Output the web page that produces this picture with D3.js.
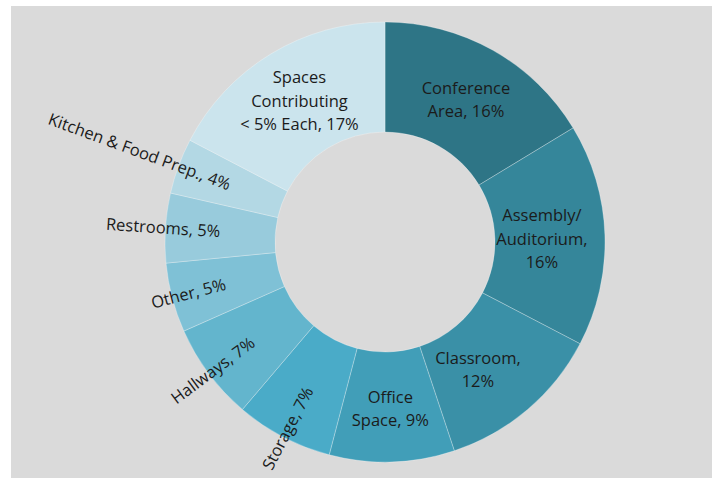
<!DOCTYPE html>
<html>
<head>
<meta charset="utf-8">
<script src="https://cdn.jsdelivr.net/npm/d3@7"></script>
<style>
  html, body { margin: 0; padding: 0; background: #ffffff; }
  svg { display: block; }
  text { font-family: "Open Sans", "Noto Sans", sans-serif; fill: #1b1b1b; }
</style>
</head>
<body>
<svg id="chart" width="712" height="478"></svg>
<script>
// Share of floor area by space type
const categories = [
  "Conference Area", "Assembly/ Auditorium", "Classroom", "Office Space",
  "Storage", "Hallways", "Other", "Restrooms", "Kitchen & Food Prep.",
  "Spaces Contributing < 5% Each"
];
const shares = [16, 16, 12, 9, 7, 7, 5, 5, 4, 17];
const sliceColors = [
  "#2e7586", "#35869a", "#3a90a7", "#419eb8", "#4aabc8",
  "#63b5cd", "#7fc1d6", "#98cbdc", "#b3d8e4", "#cbe4ed"
];
// Label text lines; inside labels are horizontal, outside ones are rotated radially
const labelLines = [
  ["Conference", "Area, 16%"],
  ["Assembly/", "Auditorium,", "16%"],
  ["Classroom,", "12%"],
  ["Office", "Space, 9%"],
  ["Storage, 7%"],
  ["Hallways, 7%"],
  ["Other, 5%"],
  ["Restrooms, 5%"],
  ["Kitchen & Food Prep., 4%"],
  ["Spaces", "Contributing", "< 5% Each, 17%"]
];
const rotatedLabel = [false, false, false, false, true, true, true, true, true, false];

const W = 712, H = 478;
const svg = d3.select("#chart");

svg.append("rect")
  .attr("x", 11).attr("y", 6)
  .attr("width", W - 11).attr("height", H - 6)
  .attr("fill", "#dadada");

const cx = 385, cy = 242, outerR = 220, innerR = 110, labelR = 165;
const data = categories.map((c, i) => ({ name: c, value: shares[i], i }));

const pie = d3.pie().value(d => d.value).sort(null);
const arcs = pie(data);
const arc = d3.arc().innerRadius(innerR).outerRadius(outerR);

const g = svg.append("g").attr("transform", `translate(${cx},${cy})`);

g.selectAll("path.slice")
  .data(arcs)
  .enter().append("path")
  .attr("class", "slice")
  .attr("d", arc)
  .attr("fill", d => sliceColors[d.data.i])
  .attr("stroke", "rgba(255,255,255,0.35)")
  .attr("stroke-width", 0.8);

// small nudges where the label box is kept inside its slice
const labelShift = { 1: [-8, 2], 2: [-14, 2], 0: [0, 1.5], 3: [0, 2] };
const lineH = 23.5;
const fontSize = 16.5;

arcs.forEach(a => {
  const i = a.data.i;
  const mid = (a.startAngle + a.endAngle) / 2;
  const x = labelR * Math.sin(mid), y = -labelR * Math.cos(mid);
  if (rotatedLabel[i]) {
    // radial orientation, reading inward and ending at the label radius
    const deg = mid * 180 / Math.PI - 270;
    g.append("text")
      .attr("transform", `translate(${x},${y}) rotate(${deg})`)
      .attr("text-anchor", "end")
      .attr("dy", "0.35em")
      .attr("font-size", fontSize)
      .text(labelLines[i][0]);
  } else {
    const sh = labelShift[i] || [0, 0];
    const lines = labelLines[i];
    const t = g.append("text")
      .attr("text-anchor", "middle")
      .attr("font-size", fontSize);
    lines.forEach((ln, k) => {
      t.append("tspan")
        .attr("x", x + sh[0])
        .attr("y", y + sh[1] + (k - (lines.length - 1) / 2) * lineH)
        .attr("dy", "0.35em")
        .text(ln);
    });
  }
});
</script>
</body>
</html>
